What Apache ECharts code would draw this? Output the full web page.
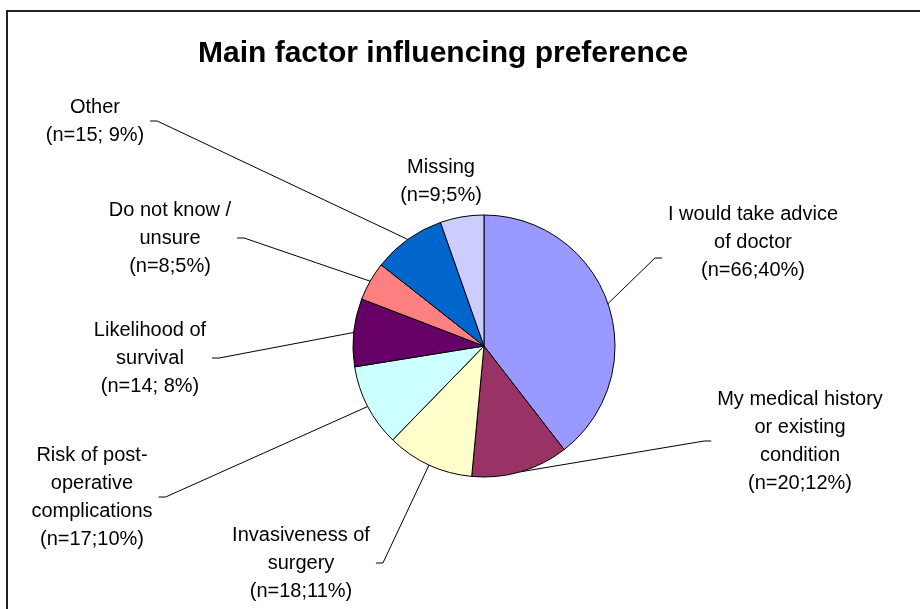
<!DOCTYPE html>
<html>
<head>
<meta charset="utf-8">
<title>Main factor influencing preference</title>
<script src="https://cdn.jsdelivr.net/npm/echarts@6/dist/echarts.min.js"></script>
<style>
  html, body { margin: 0; padding: 0; background: #fff; }
  #chart { width: 920px; height: 609px; }
</style>
</head>
<body>
<div id="chart"></div>
<script>
// slices, clockwise from 12 o'clock
const categories = [
  'I would take advice\nof doctor',
  'My medical history\nor existing\ncondition',
  'Invasiveness of\nsurgery',
  'Risk of post-\noperative\ncomplications',
  'Likelihood of\nsurvival',
  'Do not know /\nunsure',
  'Other',
  'Missing'
];
const counts = [66, 20, 18, 17, 14, 8, 15, 9];
const colors = ['#9999FF', '#993366', '#FFFFCC', '#CCFFFF', '#660066', '#FF8080', '#0066CC', '#CCCCFF'];
// the source writes "; " for a few of them
const spacedCounts = ['Other', 'Likelihood of\nsurvival'];

// where each label block sits (centre of the text)
const labelCenters = [
  [753, 242], [800, 441], [301, 563], [92, 497],
  [150, 358], [170, 238], [95, 121], [441, 181]
];
// vertical shift of the leader's end against the label centre
const leaderDy = [16, 0, 0, 0, 0, 0, 0, 0];
const noLeader = ['Missing'];

const pieCenter = [484, 346];
const pieRadius = 131;
const font = "'Liberation Sans', Arial, sans-serif";

const chart = echarts.init(document.getElementById('chart'), null, { renderer: 'canvas' });

const option = {
  backgroundColor: '#fff',
  animation: false,
  title: {
    text: 'Main factor influencing preference',
    left: 193,
    top: 34,
    textStyle: { fontFamily: font, fontSize: 30, fontWeight: 'bold', color: '#000' }
  },
  graphic: [{
    type: 'rect',
    shape: { x: 7, y: 11, width: 1000, height: 1000 },
    style: { fill: 'none', stroke: '#222', lineWidth: 2 },
    silent: true
  }],
  series: [{
    type: 'pie',
    center: pieCenter,
    radius: pieRadius,
    startAngle: 90,
    clockwise: true,
    percentPrecision: 0,
    avoidLabelOverlap: false,
    itemStyle: { borderColor: '#000', borderWidth: 1 },
    label: {
      show: true,
      position: 'outside',
      fontFamily: font,
      fontSize: 20,
      lineHeight: 28,
      color: '#000',
      formatter: p => {
        const sep = spacedCounts.indexOf(p.name) >= 0 ? '; ' : ';';
        return p.name + '\n(n=' + p.value + sep + p.percent + '%)';
      }
    },
    labelLine: {
      show: true,
      lineStyle: { color: '#000', width: 1 }
    },
    emphasis: { disabled: true },
    labelLayout: p => {
      const c = labelCenters[p.dataIndex];
      const w = p.labelRect.width;
      const out = { x: c[0], y: c[1], align: 'center', verticalAlign: 'middle' };
      if (p.labelLinePoints) {
        const leftSide = c[0] < pieCenter[0];
        const endX = leftSide ? c[0] + w / 2 + 6 : c[0] - w / 2 - 6;
        const elbowX = leftSide ? endX + 7 : endX - 7;
        const y = c[1] + leaderDy[p.dataIndex];
        out.labelLinePoints = [p.labelLinePoints[0], [elbowX, y], [endX, y]];
      }
      return out;
    },
    data: categories.map((name, i) => ({
      name: name,
      value: counts[i],
      itemStyle: { color: colors[i] },
      labelLine: { show: noLeader.indexOf(name) < 0 }
    }))
  }]
};

chart.setOption(option);
</script>
</body>
</html>
